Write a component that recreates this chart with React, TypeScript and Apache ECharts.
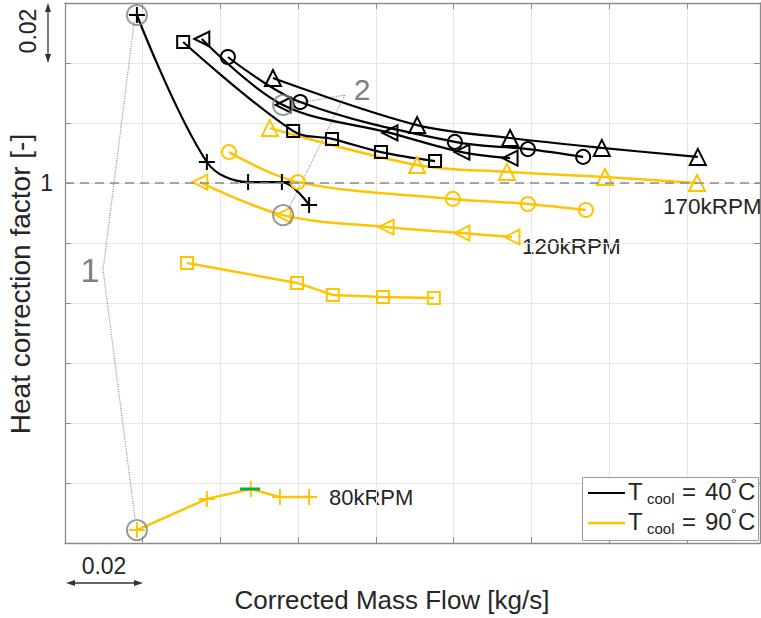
import React, { useEffect, useRef } from "react";
import * as echarts from "echarts";

// ---- data (x: corrected mass flow [kg/s], y: heat correction factor [-]) ----
// Tcool = 40°C (black)
const blk80: number[][] = [[0.0185, 1.056], [0.0365, 1.007], [0.0471, 1.0003], [0.0558, 1.0003], [0.0628, 0.9927]];
const blkSquare: number[][] = [[0.0304, 1.047], [0.0587, 1.0173], [0.0687, 1.0147], [0.0813, 1.0103], [0.0952, 1.0073]];
const blk120: number[][] = [[0.0352, 1.048], [0.0561, 1.026], [0.0836, 1.0167], [0.1021, 1.0103], [0.1145, 1.0083]];
const blkCircle: number[][] = [[0.0419, 1.042], [0.0605, 1.027], [0.1003, 1.0137], [0.1191, 1.0113], [0.1333, 1.0087]];
const blk170: number[][] = [[0.0535, 1.035], [0.0906, 1.0193], [0.1145, 1.015], [0.1381, 1.0117], [0.1628, 1.0087]];
// Tcool = 90°C (yellow)
const yel80: number[][] = [[0.0185, 0.8843], [0.0365, 0.8947], [0.0478, 0.898], [0.0553, 0.8953], [0.0628, 0.8953]];
const yelSquare: number[][] = [[0.0314, 0.9733], [0.0597, 0.9667], [0.0689, 0.9627], [0.0818, 0.962], [0.0949, 0.9617]];
const yel120: number[][] = [[0.0347, 1.0003], [0.0561, 0.9893], [0.0826, 0.9853], [0.1021, 0.9833], [0.115, 0.982]];
const yelCircle: number[][] = [[0.0422, 1.0103], [0.0599, 1.0003], [0.0998, 0.9947], [0.1191, 0.993], [0.134, 0.991]];
const yel170: number[][] = [[0.0527, 1.0183], [0.0906, 1.006], [0.1137, 1.0037], [0.1389, 1.002], [0.1626, 1.0]];
// small green segment near the 80 kRPM peak
const greenSeg: number[][] = [[0.045, 0.898], [0.0502, 0.898]];
// highlighted points (grey rings)
const highlights: number[][] = [[0.0185, 1.056], [0.0185, 0.8843], [0.0561, 1.026], [0.0561, 0.9893]];
// dotted annotation leaders
const lead1: number[][] = [[0.0178, 1.0537], [0.0098, 0.971], [0.018, 0.8883]];
const lead2a: number[][] = [[0.0581, 1.0263], [0.072, 1.0293]];
const lead2b: number[][] = [[0.072, 1.0293], [0.0576, 0.9917]];

const X_MIN = 0;
const X_MAX = 0.1788;
const Y_MIN = 0.88;
const Y_MAX = 1.06;
const STEP = 0.02;

const BLACK = "#000000";
const YELLOW = "#FFC400";
const FONT = '"Liberation Sans", Arial, Helvetica, sans-serif';
const TXT = "#262626";

const PLUS = "path://M5,0 L5,10 M0,5 L10,5";
const TRI_LEFT = "path://M0,5 L10,0 L10,10 Z";

function dataSeries(data: number[][], color: string, symbol: string, size: number, smooth: number | boolean, width: number) {
  return {
    type: "line",
    data,
    smooth,
    symbol,
    symbolSize: size,
    symbolKeepAspect: true,
    showSymbol: true,
    lineStyle: { color, width },
    itemStyle: { color: "rgba(0,0,0,0)", borderColor: color, borderWidth: 2 },
    z: 3,
  };
}

function legendRow(y: number, value: string) {
  return [
    { type: "text", x: 628, y, style: { text: "T", fontSize: 24, fontFamily: FONT, fill: TXT, verticalAlign: "middle" }, z: 11 },
    { type: "text", x: 647, y: y + 7, style: { text: "cool", fontSize: 15, fontFamily: FONT, fill: TXT, verticalAlign: "middle" }, z: 11 },
    { type: "text", x: 682, y, style: { text: "=", fontSize: 24, fontFamily: FONT, fill: TXT, verticalAlign: "middle" }, z: 11 },
    { type: "text", x: 705, y, style: { text: value, fontSize: 24, fontFamily: FONT, fill: TXT, verticalAlign: "middle" }, z: 11 },
    { type: "text", x: 731, y: y - 7, style: { text: "°", fontSize: 14, fontFamily: FONT, fill: TXT, verticalAlign: "middle" }, z: 11 },
    { type: "text", x: 738, y, style: { text: "C", fontSize: 24, fontFamily: FONT, fill: TXT, verticalAlign: "middle" }, z: 11 },
  ];
}

export default function App() {
  const ref = useRef<HTMLDivElement>(null);
  useEffect(() => {
    if (!ref.current) return;
    const chart = echarts.init(ref.current, undefined, { renderer: "svg" });
    const axisLineColor = "#8c8c8c";
    const option: any = {
      animation: false,
      grid: { left: 65, top: 3, right: 1, bottom: 75, containLabel: false },
      xAxis: [
        {
          type: "value", min: X_MIN, max: X_MAX, interval: STEP,
          axisLabel: { show: false },
          axisLine: { show: true, lineStyle: { color: axisLineColor, width: 1.3 } },
          axisTick: { show: true, inside: true, length: 6, lineStyle: { color: axisLineColor } },
          splitLine: { show: true, lineStyle: { color: "#e6e6e6", width: 1 } },
        },
        {
          type: "value", position: "top", min: X_MIN, max: X_MAX, interval: STEP,
          axisLabel: { show: false },
          axisLine: { show: true, onZero: false, lineStyle: { color: axisLineColor, width: 1.3 } },
          axisTick: { show: true, inside: true, length: 6, lineStyle: { color: axisLineColor } },
          splitLine: { show: false },
        },
      ],
      yAxis: [
        {
          type: "value", min: Y_MIN, max: Y_MAX, interval: STEP,
          axisLabel: {
            show: true, margin: 12, fontSize: 23, fontFamily: FONT, color: TXT,
            formatter: (v: number) => (Math.abs(v - 1) < 1e-9 ? "1" : ""),
          },
          axisLine: { show: true, lineStyle: { color: axisLineColor, width: 1.3 } },
          axisTick: { show: true, inside: true, length: 6, lineStyle: { color: axisLineColor } },
          splitLine: { show: true, lineStyle: { color: "#e6e6e6", width: 1 } },
        },
        {
          type: "value", position: "right", min: Y_MIN, max: Y_MAX, interval: STEP,
          axisLabel: { show: false },
          axisLine: { show: true, onZero: false, lineStyle: { color: axisLineColor, width: 1.3 } },
          axisTick: { show: true, inside: true, length: 6, lineStyle: { color: axisLineColor } },
          splitLine: { show: false },
        },
      ],
      series: [
        // dashed reference line at 1
        {
          type: "line", data: [], symbol: "none",
          markLine: {
            silent: true, symbol: ["none", "none"], label: { show: false },
            lineStyle: { type: [9, 6], color: "#8a8a8a", width: 1.5 },
            data: [{ yAxis: 1 }],
          },
          z: 1,
        },
        dataSeries(yel80, YELLOW, PLUS, 16, false, 2.5),
        dataSeries(yelSquare, YELLOW, "rect", 12, false, 2.5),
        dataSeries(yel120, YELLOW, TRI_LEFT, 15, 0.35, 2.5),
        dataSeries(yelCircle, YELLOW, "circle", 14, 0.35, 2.5),
        dataSeries(yel170, YELLOW, "triangle", 16, 0.35, 2.5),
        dataSeries(blk80, BLACK, PLUS, 16, 0.35, 2.2),
        dataSeries(blkSquare, BLACK, "rect", 12, 0.35, 2.2),
        dataSeries(blk120, BLACK, TRI_LEFT, 15, 0.35, 2.2),
        dataSeries(blkCircle, BLACK, "circle", 14, 0.35, 2.2),
        dataSeries(blk170, BLACK, "triangle", 16, 0.35, 2.2),
        { type: "line", data: greenSeg, symbol: "none", lineStyle: { color: "#00B050", width: 3 }, z: 4 },
        { type: "line", data: lead1, symbol: "none", lineStyle: { color: "#9a9a9a", width: 1.2, type: "dotted" }, z: 2 },
        { type: "line", data: lead2a, symbol: "none", lineStyle: { color: "#9a9a9a", width: 1.2, type: "dotted" }, z: 2 },
        { type: "line", data: lead2b, symbol: "none", lineStyle: { color: "#9a9a9a", width: 1.2, type: "dotted" }, z: 2 },
        {
          type: "scatter", data: highlights, symbol: "circle", symbolSize: 20,
          itemStyle: { color: "rgba(0,0,0,0)", borderColor: "#7f7f7f", borderWidth: 2 }, z: 5,
        },
      ],
      graphic: [
        // axis titles
        { type: "text", x: 20, y: 284, rotation: Math.PI / 2, style: { text: "Heat correction factor [-]", fontSize: 28, fontFamily: FONT, fill: TXT, align: "center", verticalAlign: "middle" } },
        { type: "text", x: 392, y: 600, style: { text: "Corrected Mass Flow [kg/s]", fontSize: 26, fontFamily: FONT, fill: TXT, align: "center", verticalAlign: "middle" } },
        // scale arrows
        { type: "text", x: 28, y: 31, rotation: Math.PI / 2, style: { text: "0.02", fontSize: 23, fontFamily: FONT, fill: TXT, align: "center", verticalAlign: "middle" } },
        { type: "line", shape: { x1: 48, y1: 8, x2: 48, y2: 58 }, style: { stroke: "#333", lineWidth: 1.3 } },
        { type: "polygon", shape: { points: [[48, 3], [45, 12], [51, 12]] }, style: { fill: "#333" } },
        { type: "polygon", shape: { points: [[48, 63], [45, 54], [51, 54]] }, style: { fill: "#333" } },
        { type: "text", x: 104, y: 566, style: { text: "0.02", fontSize: 23, fontFamily: FONT, fill: TXT, align: "center", verticalAlign: "middle" } },
        { type: "line", shape: { x1: 70, y1: 583, x2: 139, y2: 583 }, style: { stroke: "#333", lineWidth: 1.3 } },
        { type: "polygon", shape: { points: [[66, 583], [75, 580], [75, 586]] }, style: { fill: "#333" } },
        { type: "polygon", shape: { points: [[143, 583], [134, 580], [134, 586]] }, style: { fill: "#333" } },
        // annotation numbers
        { type: "text", x: 90, y: 270, style: { text: "1", fontSize: 34, fontFamily: FONT, fill: "#808080", align: "center", verticalAlign: "middle" } },
        { type: "text", x: 362, y: 89, style: { text: "2", fontSize: 30, fontFamily: FONT, fill: "#808080", align: "center", verticalAlign: "middle" } },
        // speed labels
        { type: "text", x: 663, y: 206, style: { text: "170kRPM", fontSize: 22.5, fontFamily: FONT, fill: TXT, align: "left", verticalAlign: "middle" } },
        { type: "text", x: 522, y: 246, style: { text: "120kRPM", fontSize: 22.5, fontFamily: FONT, fill: TXT, align: "left", verticalAlign: "middle" } },
        { type: "text", x: 329, y: 497, style: { text: "80kRPM", fontSize: 22, fontFamily: FONT, fill: TXT, align: "left", verticalAlign: "middle" } },
        // legend
        { type: "rect", shape: { x: 582.5, y: 477.5, width: 176, height: 63 }, style: { fill: "#fff", stroke: "#9a9a9a", lineWidth: 1 }, z: 10 },
        { type: "line", shape: { x1: 588, y1: 493, x2: 625, y2: 493 }, style: { stroke: BLACK, lineWidth: 2 }, z: 11 },
        { type: "line", shape: { x1: 588, y1: 523, x2: 625, y2: 523 }, style: { stroke: YELLOW, lineWidth: 2.5 }, z: 11 },
        { type: "group", z: 11, children: [...legendRow(491, "40"), ...legendRow(521, "90")] },
      ],
    };
    chart.setOption(option);
    return () => chart.dispose();
  }, []);
  return <div ref={ref} style={{ position: "fixed", left: 0, top: 0, width: 761, height: 618, background: "#fff" }} />;
}
